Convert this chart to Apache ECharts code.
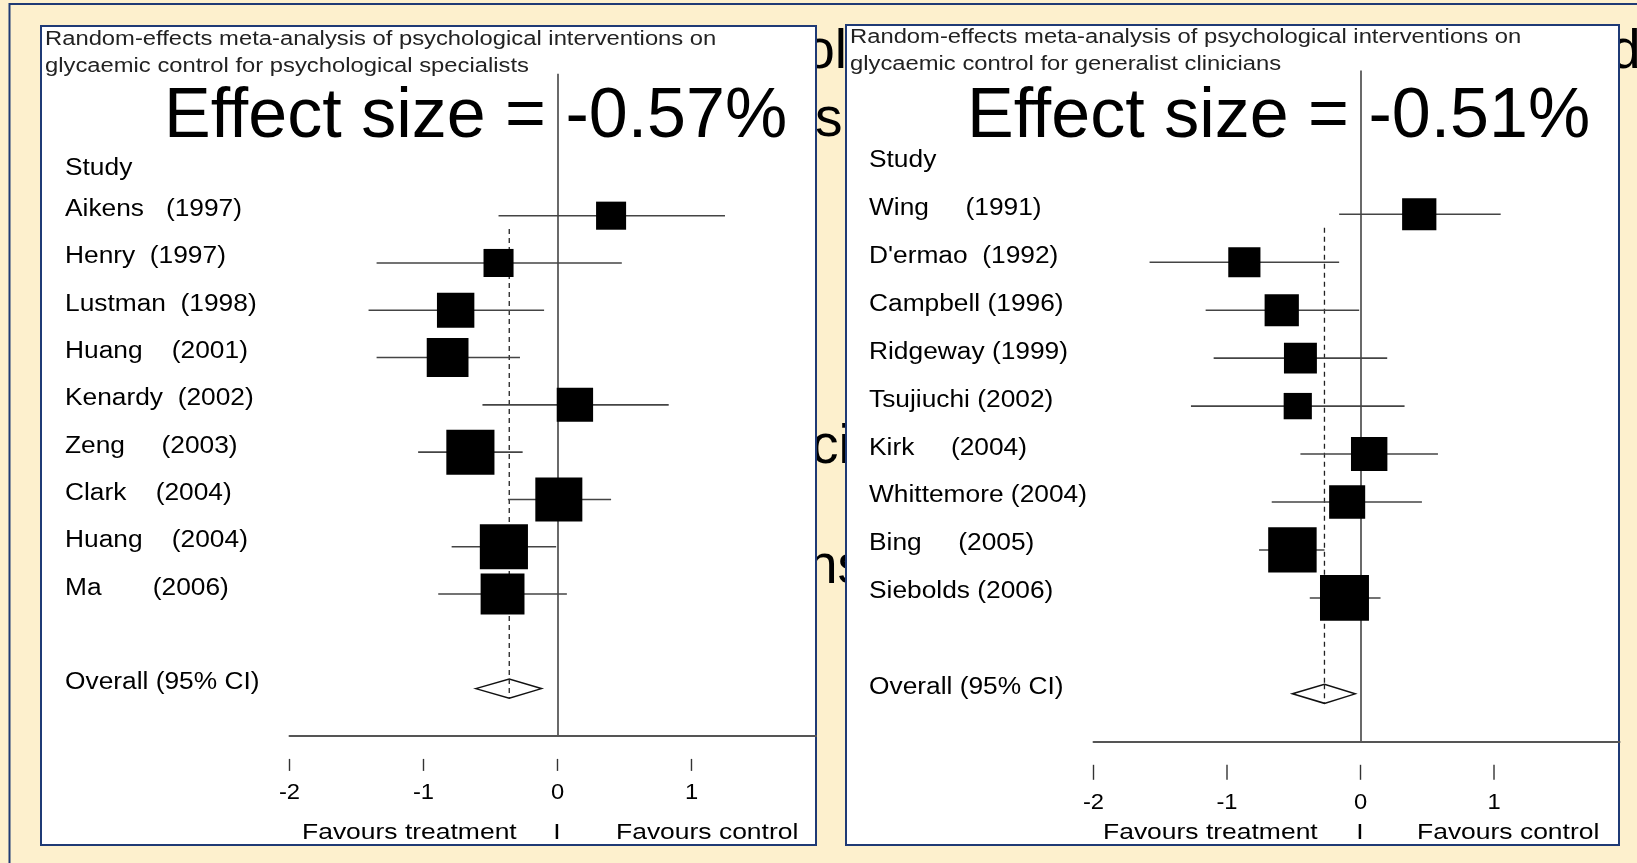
<!DOCTYPE html>
<html><head><meta charset="utf-8">
<script src="https://cdn.jsdelivr.net/npm/echarts@6/dist/echarts.min.js"></script>
<style>html,body{margin:0;padding:0;background:#FDF0CD;} #c{width:1637px;height:863px;}</style>
</head><body><div id="c"></div>
<script>
// ---------- Panel A: psychological specialists ----------
const titleA = ['Random-effects meta-analysis of psychological interventions on', 'glycaemic control for psychological specialists'];
const effectA = 'Effect size = -0.57%';
const studiesA = ['Aikens   (1997)', 'Henry  (1997)', 'Lustman  (1998)', 'Huang    (2001)', 'Kenardy  (2002)', 'Zeng     (2003)', 'Clark    (2004)', 'Huang    (2004)', 'Ma       (2006)'];
const estA  = [0.40, -0.44, -0.76, -0.82, 0.13, -0.65, 0.01, -0.40, -0.41];
const lowA  = [-0.44, -1.35, -1.41, -1.35, -0.56, -1.04, -0.37, -0.79, -0.89];
const highA = [1.25, 0.48, -0.10, -0.28, 0.83, -0.26, 0.40, -0.01, 0.07];
const weightA = [6.0, 6.0, 9.3, 11.6, 8.8, 15.4, 14.7, 15.4, 12.8];
const overallA = [-0.36, -0.61, -0.12];

// ---------- Panel B: generalist clinicians ----------
const titleB = ['Random-effects meta-analysis of psychological interventions on', 'glycaemic control for generalist clinicians'];
const effectB = 'Effect size = -0.51%';
const studiesB = ['Wing     (1991)', "D'ermao  (1992)", 'Campbell (1996)', 'Ridgeway (1999)', 'Tsujiuchi (2002)', 'Kirk     (2004)', 'Whittemore (2004)', 'Bing     (2005)', 'Siebolds (2006)'];
const estB  = [0.44, -0.87, -0.59, -0.45, -0.47, 0.065, -0.10, -0.51, -0.12];
const lowB  = [-0.16, -1.58, -1.16, -1.10, -1.27, -0.45, -0.665, -0.76, -0.38];
const highB = [1.05, -0.16, -0.01, 0.20, 0.33, 0.58, 0.46, -0.27, 0.15];
const weightB = [9.3, 8.2, 9.3, 8.6, 6.3, 10.5, 10.3, 18.6, 19.0];
const overallB = [-0.27, -0.51, -0.04];

// ---------- shared text ----------
const headerLabel = 'Study';
const overallLabel = 'Overall (95% CI)';
const tickValues = [-2, -1, 0, 1];
const tickLabels = ['-2', '-1', '0', '1'];
const favoursLeft = 'Favours treatment';
const favoursMid = 'I';
const favoursRight = 'Favours control';
const bgFragments = ['ol', 'd', 's', 'ci', 'ns'];

// ---------- layout (styles / positions) ----------
const FONT = '"Liberation Sans", Arial, sans-serif';
const panels = [
  { rect: [41, 26, 775, 819], grid: { left: 289.5, top: 73.8, width: 526.6, height: 662.1 }, xMax: 1.93,
    labelX: 65, headerDy: 0, boxK: 11.46, tickGap: 23, tickLen: 12, tickLabelDy: 57,
    titleX: 45, titleY: [40, 67], effectX: 164, favX: [302, 557, 616],
    titles: titleA, effect: effectA, studies: studiesA, est: estA, low: lowA, high: highA, weight: weightA, overall: overallA },
  { rect: [846, 25, 773, 820], grid: { left: 1093.5, top: 70.4, width: 526, height: 671.4 }, xMax: 1.94,
    labelX: 869, headerDy: -6, boxK: 10.5, tickGap: 23, tickLen: 15, tickLabelDy: 61,
    titleX: 850, titleY: [37.5, 64.5], effectX: 967, favX: [1103, 1360, 1417],
    titles: titleB, effect: effectB, studies: studiesB, est: estB, low: lowB, high: highB, weight: weightB, overall: overallB }
];
const Y_MIN = -2, Y_MAX = 12;

const chart = echarts.init(document.getElementById('c'), null, { renderer: 'canvas' });

const grids = [], xAxes = [], yAxes = [], series = [], graphics = [];

// background slide outline and fragments of slide text behind panels
graphics.push({ type: 'rect', z: 0, shape: { x: 9.5, y: 4, width: 1700, height: 900 }, style: { fill: '#FDF0CD', stroke: '#1F3A75', lineWidth: 2 } });
const fragPos = [[847, 53, 'right'], [1610, 53, 'left'], [815, 121, 'left'], [811, 448, 'left'], [807, 568, 'left']];
bgFragments.forEach((t, i) => {
  graphics.push({ type: 'text', z: 1, x: fragPos[i][0], y: fragPos[i][1],
    style: { text: t, fill: '#000', font: '55px ' + FONT, align: fragPos[i][2], verticalAlign: 'middle' } });
});

panels.forEach((p, pi) => {
  // panel box
  graphics.push({ type: 'rect', z: 2, shape: { x: p.rect[0], y: p.rect[1], width: p.rect[2], height: p.rect[3] },
    style: { fill: '#fff', stroke: '#1F3A75', lineWidth: 2 } });
  // titles
  p.titles.forEach((t, i) => {
    graphics.push({ type: 'text', z: 20, x: p.titleX, y: p.titleY[i], scaleX: 1.22,
      style: { text: t, fill: '#222', fontSize: 19.5, fontFamily: FONT, align: 'left', verticalAlign: 'middle' } });
  });
  // big effect size annotation
  graphics.push({ type: 'text', z: 20, x: p.effectX, y: 117.4,
    style: { text: p.effect, fill: '#000', fontSize: 70, fontFamily: FONT, align: 'left', verticalAlign: 'middle' } });
  // favours labels
  [[favoursLeft, 'left'], [favoursMid, 'center'], [favoursRight, 'left']].forEach((f, i) => {
    graphics.push({ type: 'text', z: 20, x: p.favX[i], y: 833, scaleX: 1.22,
      style: { text: f[0], fill: '#000', fontSize: 21.7, fontFamily: FONT, align: f[1], verticalAlign: 'middle' } });
  });

  grids.push(Object.assign({ containLabel: false }, p.grid));
  xAxes.push({ gridIndex: pi, type: 'value', min: -2, max: p.xMax, z: 10,
    axisLine: { show: true, onZero: false, lineStyle: { color: '#555', width: 2 } },
    axisTick: { show: false }, axisLabel: { show: false }, splitLine: { show: false } });
  yAxes.push({ gridIndex: pi, type: 'value', min: Y_MIN, max: Y_MAX, inverse: true, show: false });

  const n = p.studies.length;
  const overallRow = n + 2;

  // studies: CI line + weighted square
  series.push({
    type: 'custom', name: 'studies' + pi, xAxisIndex: pi, yAxisIndex: pi, z: 5, silent: true,
    data: p.est.map((e, i) => [i + 1, e, p.low[i], p.high[i], p.weight[i]]),
    encode: { x: [1, 2, 3], y: 0 },
    renderItem: function (params, api) {
      const row = api.value(0);
      const pLo = api.coord([api.value(2), row]);
      const pHi = api.coord([api.value(3), row]);
      const pE = api.coord([api.value(1), row]);
      const side = p.boxK * Math.sqrt(api.value(4));
      const w = side * 1.07;
      return { type: 'group', children: [
        { type: 'line', shape: { x1: pLo[0], y1: pLo[1], x2: pHi[0], y2: pHi[1] }, style: { stroke: '#444', lineWidth: 1.6 } },
        { type: 'rect', shape: { x: pE[0] - w / 2, y: pE[1] - side / 2, width: w, height: side }, style: { fill: '#000' } }
      ] };
    },
    markLine: { silent: true, symbol: 'none', label: { show: false },
      lineStyle: { color: '#444', width: 1.6, type: 'solid' }, data: [{ xAxis: 0 }] }
  });

  // overall: dashed line + diamond
  series.push({
    type: 'custom', name: 'overall' + pi, xAxisIndex: pi, yAxisIndex: pi, z: 4, silent: true,
    data: [[overallRow, p.overall[0], p.overall[1], p.overall[2]]],
    encode: { x: [1, 2, 3], y: 0 },
    renderItem: function (params, api) {
      const row = api.value(0), e = api.value(1), lo = api.value(2), hi = api.value(3);
      const c = api.coord([e, row]);
      const top = api.coord([e, 1.28]);
      const l = api.coord([lo, row]), h = api.coord([hi, row]);
      const hh = 9.5;
      return { type: 'group', children: [
        { type: 'line', shape: { x1: top[0], y1: top[1], x2: c[0], y2: c[1] }, style: { stroke: '#222', lineWidth: 1.3, lineDash: [5, 4] } },
        { type: 'polygon', shape: { points: [[l[0], l[1]], [c[0], c[1] - hh], [h[0], h[1]], [c[0], c[1] + hh]] },
          style: { fill: '#fff', stroke: '#111', lineWidth: 1.5 } },
        { type: 'line', shape: { x1: c[0], y1: c[1] - hh, x2: c[0], y2: c[1] + hh }, style: { stroke: '#222', lineWidth: 1.3, lineDash: [5, 4] } }
      ] };
    }
  });

  // detached x ticks + tick labels (positioned through the x scale)
  series.push({
    type: 'custom', name: 'ticks' + pi, xAxisIndex: pi, yAxisIndex: pi, z: 6, silent: true,
    data: tickValues.map(v => [v, Y_MAX]),
    encode: { x: 0, y: 1 },
    renderItem: function (params, api) {
      const pt = api.coord([api.value(0), api.value(1)]);
      return { type: 'group', children: [
        { type: 'line', shape: { x1: pt[0], y1: pt[1] + p.tickGap, x2: pt[0], y2: pt[1] + p.tickGap + p.tickLen }, style: { stroke: '#333', lineWidth: 1.4 } },
        { type: 'text', x: pt[0], y: pt[1] + p.tickLabelDy, scaleX: 1.08,
          style: { text: tickLabels[params.dataIndex], fill: '#000', fontSize: 22, fontFamily: FONT, align: 'center', verticalAlign: 'middle' } }
      ] };
    }
  });

  // row labels
  const labelTexts = [headerLabel].concat(p.studies, [overallLabel]);
  const labelRows = [0].concat(p.studies.map((s, i) => i + 1), [overallRow]);
  series.push({
    type: 'custom', name: 'labels' + pi, xAxisIndex: pi, yAxisIndex: pi, z: 6, silent: true,
    data: labelRows.map(r => [0, r]),
    encode: { x: 0, y: 1 },
    renderItem: function (params, api) {
      const y = api.coord([0, api.value(1)])[1] + (params.dataIndex === 0 ? p.headerDy : -6);
      return { type: 'text', x: p.labelX, y: y, scaleX: 1.12,
        style: { text: labelTexts[params.dataIndex], fill: '#000', fontSize: 23.5, fontFamily: FONT, align: 'left', verticalAlign: 'middle' } };
    }
  });
});

chart.setOption({
  backgroundColor: '#FDF0CD',
  animation: false,
  grid: grids,
  xAxis: xAxes,
  yAxis: yAxes,
  series: series,
  graphic: { elements: graphics }
});
</script>
</body></html>
